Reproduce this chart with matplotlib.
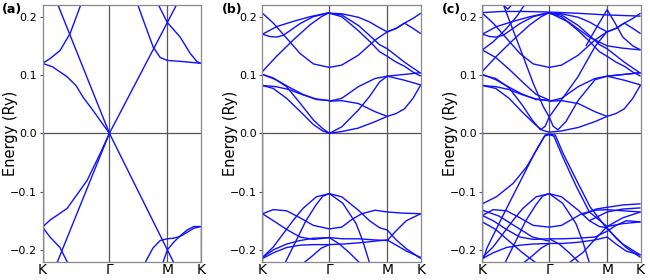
import matplotlib
matplotlib.use('Agg')
import matplotlib.pyplot as plt

# high-symmetry path K - Gamma - M - K
kpts = [0.0, 1.0, 1.866, 2.366]
klabels = ['K', 'Γ', 'M', 'K']
tags = ['(a)', '(b)', '(c)']
emin, emax = -0.22, 0.22

# ---- panel (a) ----
a_cond = [
    ([0, 0.15, 0.367, 0.5, 0.606, 0.75, 0.861, 1.0], [0.12, 0.114, 0.097, 0.082, 0.062, 0.040, 0.022, 0.0]),
    ([0, 0.112, 0.262, 0.412, 0.561, 0.60], [0.12, 0.128, 0.142, 0.171, 0.217, 0.23]),
    ([0.2, 1.0], [0.229, 0.0]),
    ([1.0, 1.866, 2.06], [0.0, 0.19, 0.233]),
    ([1.40, 1.52, 1.654, 1.759, 1.866, 2.1, 2.366], [0.228, 0.19, 0.148, 0.13, 0.125, 0.123, 0.12]),
    ([1.69, 1.866, 2.058, 2.208, 2.31, 2.366], [0.23, 0.19, 0.165, 0.137, 0.123, 0.12]),
]
a_val = [
    ([0.2, 1.0], [-0.227, 0.0]),
    ([0, 0.112, 0.367, 0.666, 0.861, 1.0], [-0.161, -0.149, -0.129, -0.081, -0.035, 0.0]),
    ([0, 0.112, 0.262, 0.40], [-0.161, -0.178, -0.196, -0.228]),
    ([1.0, 1.866, 1.98], [0.0, -0.2, -0.226]),
    ([1.534, 1.65, 1.759, 1.866, 1.96, 2.058, 2.16, 2.26, 2.366],
     [-0.222, -0.197, -0.184, -0.181, -0.180, -0.177, -0.170, -0.163, -0.160]),
    ([1.80, 1.866, 1.96, 2.058, 2.16, 2.26, 2.366], [-0.222, -0.2, -0.187, -0.176, -0.166, -0.160, -0.160]),
    ([0, 0], [0.0, -0.23]),
    ([2.366, 2.366], [-0.16, -0.23]),
]

# ---- panel (b) ----
b_cond = [
    ([0, 0.162, 0.362, 0.561, 0.761, 1.0], [0.206, 0.189, 0.163, 0.137, 0.119, 0.113]),
    ([0, 0.212, 0.462, 0.711, 1.0], [0.170, 0.183, 0.192, 0.200, 0.207]),
    ([0, 0.11, 0.21, 0.31, 0.41, 0.56, 0.76, 1.0], [0.170, 0.166, 0.165, 0.168, 0.176, 0.188, 0.200, 0.207]),
    ([0, 0.21, 0.46, 0.71, 0.88, 1.0], [0.106, 0.132, 0.160, 0.186, 0.200, 0.207]),
    ([0, 0.16, 0.36, 0.56, 0.76, 0.9, 1.0], [0.101, 0.095, 0.080, 0.052, 0.023, 0.008, 0.0]),
    ([0, 0.16, 0.36, 0.56, 0.76, 0.9, 1.0], [0.082, 0.077, 0.060, 0.038, 0.015, 0.004, 0.0]),
    ([0, 0.2, 0.4, 0.6, 0.8, 1.0], [0.101, 0.092, 0.079, 0.067, 0.058, 0.056]),
    ([0, 0.2, 0.4, 0.6, 0.8, 1.0], [0.082, 0.080, 0.075, 0.066, 0.059, 0.056]),
    ([1.0, 1.185, 1.434, 1.6, 1.75, 1.866, 2.0, 2.123, 2.25, 2.366],
     [0.206, 0.205, 0.199, 0.191, 0.181, 0.174, 0.180, 0.189, 0.197, 0.206]),
    ([1.0, 1.185, 1.434, 1.684, 1.866, 2.0, 2.123, 2.25, 2.366],
     [0.113, 0.117, 0.134, 0.160, 0.174, 0.180, 0.189, 0.180, 0.171]),
    ([1.0, 1.185, 1.434, 1.6, 1.75, 1.866, 2.0, 2.123, 2.25, 2.366],
     [0.206, 0.203, 0.185, 0.168, 0.152, 0.145, 0.133, 0.122, 0.112, 0.103]),
    ([1.0, 1.185, 1.434, 1.6, 1.75, 1.866, 2.0, 2.123, 2.25, 2.366],
     [0.206, 0.200, 0.176, 0.158, 0.140, 0.132, 0.122, 0.115, 0.105, 0.098]),
    ([1.0, 1.185, 1.434, 1.684, 1.866, 2.123, 2.366], [0.055, 0.060, 0.080, 0.094, 0.098, 0.101, 0.104]),
    ([1.0, 1.185, 1.434, 1.6, 1.75, 1.866, 2.123, 2.366], [0.0, 0.011, 0.040, 0.063, 0.088, 0.098, 0.091, 0.083]),
    ([1.0, 1.185, 1.434, 1.684, 1.866, 2.0, 2.123, 2.25, 2.366],
     [0.055, 0.056, 0.051, 0.037, 0.029, 0.034, 0.042, 0.060, 0.083]),
    ([1.0, 1.185, 1.434, 1.684, 1.866], [0.0, 0.003, 0.009, 0.020, 0.029]),
]
b_val = [
    ([0, 0.162, 0.362, 0.561, 0.761, 1.0, 1.185, 1.335, 1.484, 1.684, 1.866, 2.1, 2.366],
     [-0.138, -0.131, -0.133, -0.145, -0.158, -0.164, -0.161, -0.148, -0.138, -0.132, -0.135, -0.137, -0.138]),
    ([0, 0.162, 0.362, 0.561, 0.761, 1.0], [-0.138, -0.150, -0.165, -0.178, -0.182, -0.179]),
    ([0.0, 0.162, 0.312, 0.462, 0.605, 0.805, 1.0], [-0.213, -0.195, -0.172, -0.149, -0.129, -0.109, -0.1035]),
    ([0.34, 0.5, 0.65, 0.8, 0.9, 1.0], [-0.222, -0.185, -0.150, -0.123, -0.108, -0.1035]),
    ([0, 0.162, 0.362, 0.561, 0.761, 1.0], [-0.215, -0.205, -0.196, -0.192, -0.191, -0.191]),
    ([0, 0.162, 0.362, 0.561, 0.761, 1.0], [-0.213, -0.200, -0.190, -0.184, -0.180, -0.179]),
    ([0.62, 0.75, 0.88, 1.0], [-0.222, -0.21, -0.197, -0.191]),
    ([1.0, 1.185, 1.434, 1.6, 1.75, 1.866, 2.0, 2.15, 2.366],
     [-0.1035, -0.109, -0.132, -0.150, -0.162, -0.166, -0.183, -0.198, -0.215]),
    ([1.0, 1.2, 1.4, 1.5, 1.6], [-0.1035, -0.12, -0.155, -0.185, -0.222]),
    ([1.0, 1.2, 1.434, 1.684, 1.866, 2.0, 2.15, 2.366],
     [-0.179, -0.181, -0.181, -0.183, -0.184, -0.167, -0.150, -0.138]),
    ([1.0, 1.2, 1.434, 1.684, 1.866, 2.0, 2.15, 2.366],
     [-0.191, -0.190, -0.188, -0.185, -0.183, -0.192, -0.202, -0.213]),
    ([1.0, 1.15, 1.3, 1.45], [-0.179, -0.19, -0.205, -0.222]),
    ([0, 0], [0.0, -0.23]),
]

# ---- panel (c) ----
c_cond = [
    ([0, 0.162, 0.362, 0.561, 0.761, 1.0], [0.206, 0.189, 0.163, 0.137, 0.119, 0.113]),
    ([0, 0.3, 0.6, 1.0], [0.207, 0.209, 0.209, 0.208]),
    ([0, 0.212, 0.462, 0.711, 1.0], [0.170, 0.183, 0.192, 0.200, 0.207]),
    ([0, 0.11, 0.21, 0.31, 0.41, 0.56, 0.76, 1.0], [0.170, 0.166, 0.165, 0.168, 0.176, 0.188, 0.200, 0.207]),
    ([0, 0.164, 0.363, 0.512, 0.612, 0.65], [0.143, 0.157, 0.18, 0.20, 0.217, 0.225]),
    ([0, 0.2, 0.4, 0.6, 0.8, 1.0], [0.143, 0.130, 0.110, 0.088, 0.067, 0.057]),
    ([0.30, 0.46, 0.61, 0.76, 0.91, 1.0], [0.225, 0.177, 0.132, 0.086, 0.046, 0.028]),
    ([0.27, 0.38, 0.48], [0.225, 0.213, 0.225]),
    ([0, 0.21, 0.46, 0.71, 0.88, 1.0], [0.106, 0.132, 0.160, 0.186, 0.200, 0.207]),
    ([0, 0.2, 0.4, 0.6, 0.75, 0.87, 0.94, 1.0], [0.100, 0.094, 0.078, 0.048, 0.022, 0.006, 0.012, 0.028]),
    ([0, 0.2, 0.4, 0.6, 0.8, 0.9, 1.0], [0.082, 0.077, 0.060, 0.036, 0.014, 0.005, 0.002]),
    ([0, 0.2, 0.4, 0.6, 0.8, 1.0], [0.101, 0.092, 0.079, 0.067, 0.058, 0.056]),
    ([0, 0.2, 0.4, 0.6, 0.8, 1.0], [0.082, 0.080, 0.075, 0.066, 0.059, 0.056]),
    ([1.0, 1.4, 1.866, 2.366], [0.208, 0.206, 0.203, 0.201]),
    ([1.0, 1.185, 1.434, 1.6, 1.75, 1.866, 2.0, 2.123, 2.25, 2.366],
     [0.206, 0.205, 0.199, 0.191, 0.181, 0.174, 0.180, 0.189, 0.197, 0.206]),
    ([1.0, 1.185, 1.434, 1.684, 1.866, 2.0, 2.123, 2.25, 2.366],
     [0.113, 0.117, 0.134, 0.160, 0.174, 0.180, 0.189, 0.180, 0.171]),
    ([1.0, 1.185, 1.434, 1.6, 1.75, 1.866, 2.0, 2.123, 2.25, 2.366],
     [0.206, 0.203, 0.185, 0.168, 0.152, 0.145, 0.133, 0.122, 0.112, 0.103]),
    ([1.0, 1.185, 1.434, 1.6, 1.75, 1.866, 2.0, 2.123, 2.25, 2.366],
     [0.206, 0.200, 0.176, 0.158, 0.140, 0.132, 0.122, 0.115, 0.105, 0.098]),
    ([1.0, 1.3, 1.6, 1.866, 2.1, 2.366], [0.207, 0.19, 0.165, 0.150, 0.146, 0.143]),
    ([1.0, 1.2, 1.43, 1.686, 1.866], [0.028, 0.06, 0.097, 0.149, 0.175]),
    ([1.55, 1.7, 1.866, 1.98, 2.1, 2.25, 2.366], [0.150, 0.180, 0.212, 0.190, 0.165, 0.150, 0.143]),
    ([1.0, 1.06, 1.13, 1.25, 1.437, 1.686, 1.866, 2.123, 2.366],
     [0.028, 0.012, 0.006, 0.02, 0.057, 0.092, 0.098, 0.101, 0.104]),
    ([1.0, 1.185, 1.434, 1.684, 1.866, 2.123, 2.366], [0.055, 0.060, 0.080, 0.094, 0.098, 0.101, 0.104]),
    ([1.0, 1.185, 1.434, 1.684, 1.866, 2.0, 2.123, 2.25, 2.366],
     [0.055, 0.056, 0.051, 0.037, 0.029, 0.034, 0.042, 0.060, 0.083]),
    ([1.0, 1.185, 1.434, 1.684, 1.866], [0.002, 0.004, 0.010, 0.020, 0.029]),
    ([1.866, 2.123, 2.366], [0.098, 0.091, 0.083]),
]
c_val = [
    ([0, 0.21, 0.46, 0.66, 0.81, 0.94, 1.0, 1.09, 1.21, 1.41, 1.61, 1.866, 2.1, 2.366],
     [-0.121, -0.109, -0.086, -0.058, -0.029, -0.003, -0.002, -0.003, -0.035, -0.081, -0.126, -0.164, -0.19, -0.209]),
    ([0.02, 0.065, 0.21, 0.41, 0.61, 0.8, 0.93, 1.0, 1.07, 1.2, 1.4, 1.6, 1.866, 2.1, 2.366],
     [-0.215, -0.198, -0.164, -0.118, -0.073, -0.03, -0.005, -0.002, -0.005, -0.04, -0.09, -0.135, -0.16, -0.155, -0.152]),
    ([0, 0.162, 0.362, 0.561, 0.761, 1.0, 1.185, 1.335, 1.484, 1.684, 1.866, 2.1, 2.366],
     [-0.141, -0.131, -0.133, -0.145, -0.158, -0.161, -0.158, -0.148, -0.138, -0.132, -0.131, -0.133, -0.135]),
    ([0, 0.162, 0.362, 0.561, 0.761, 1.0], [-0.141, -0.150, -0.165, -0.178, -0.182, -0.181]),
    ([0.0, 0.162, 0.312, 0.462, 0.605, 0.805, 1.0], [-0.213, -0.195, -0.172, -0.149, -0.129, -0.109, -0.1035]),
    ([0.34, 0.5, 0.65, 0.8, 0.9, 1.0], [-0.222, -0.185, -0.150, -0.123, -0.108, -0.1035]),
    ([0, 0.162, 0.362, 0.561, 0.761, 1.0], [-0.215, -0.205, -0.196, -0.192, -0.190, -0.189]),
    ([0, 0.25, 0.5, 0.75, 1.0], [-0.132, -0.142, -0.16, -0.178, -0.185]),
    ([0, 0.2, 0.4, 0.6, 0.8], [-0.152, -0.165, -0.185, -0.205, -0.222]),
    ([0.62, 0.75, 0.88, 1.0], [-0.222, -0.21, -0.197, -0.189]),
    ([1.0, 1.185, 1.434, 1.6, 1.75, 1.866, 2.0, 2.15, 2.366],
     [-0.1035, -0.109, -0.132, -0.150, -0.160, -0.162, -0.180, -0.196, -0.213]),
    ([1.0, 1.2, 1.4, 1.5, 1.6], [-0.1035, -0.12, -0.155, -0.185, -0.222]),
    ([1.0, 1.2, 1.434, 1.684, 1.866, 2.0, 2.15, 2.366],
     [-0.181, -0.181, -0.180, -0.178, -0.168, -0.158, -0.150, -0.152]),
    ([1.0, 1.2, 1.434, 1.684, 1.866, 2.0, 2.15, 2.366],
     [-0.189, -0.189, -0.187, -0.183, -0.178, -0.190, -0.202, -0.209]),
    ([1.5, 1.7, 1.866, 2.1, 2.366], [-0.14, -0.13, -0.127, -0.123, -0.121]),
    ([1.6, 1.866, 2.1, 2.366], [-0.15, -0.135, -0.130, -0.128]),
    ([1.0, 1.15, 1.3, 1.45], [-0.181, -0.19, -0.205, -0.222]),
    ([1.3, 1.5, 1.7, 1.866, 2.1, 2.366], [-0.222, -0.205, -0.18, -0.16, -0.145, -0.135]),
    ([0, 0], [0.23, -0.23]),
]

panels = [a_cond + a_val, b_cond + b_val, c_cond + c_val]
lefts = [0.0654, 0.4038, 0.742]

fig = plt.figure(figsize=(6.5, 2.8), dpi=100)
for i, bands in enumerate(panels):
    ax = fig.add_axes([lefts[i], 0.066, 0.2435, 0.916])
    for k, e in bands:
        ax.plot(k, e, color='#1010ff', lw=1.0, solid_capstyle='butt')
    for kp in kpts[1:3]:
        ax.axvline(kp, color='#555555', lw=0.9, zorder=0)
    ax.axhline(0, color='#555555', lw=0.9, zorder=0)
    ax.set_xlim(kpts[0], kpts[-1])
    ax.set_ylim(emin, emax)
    ax.set_xticks(kpts)
    ax.set_xticklabels(klabels, fontsize=10)
    ax.set_yticks([-0.2, -0.1, 0.0, 0.1, 0.2])
    ax.set_yticklabels(['−0.2', '−0.1', '0.0', '0.1', '0.2'], fontsize=8)
    ax.tick_params(axis='x', length=0, pad=1)
    ax.tick_params(axis='y', length=2, width=0.8, pad=2, color='#555555')
    for s in ax.spines.values():
        s.set_color('#888888')
        s.set_linewidth(0.9)
    ax.set_ylabel('Energy (Ry)', fontsize=10.5)
    ax.yaxis.set_label_coords(-0.152, 0.5)
    fig.text(lefts[i] - 0.0628, 0.955, tags[i], fontsize=9, fontweight='bold')

fig.savefig('out.png', dpi=100)
